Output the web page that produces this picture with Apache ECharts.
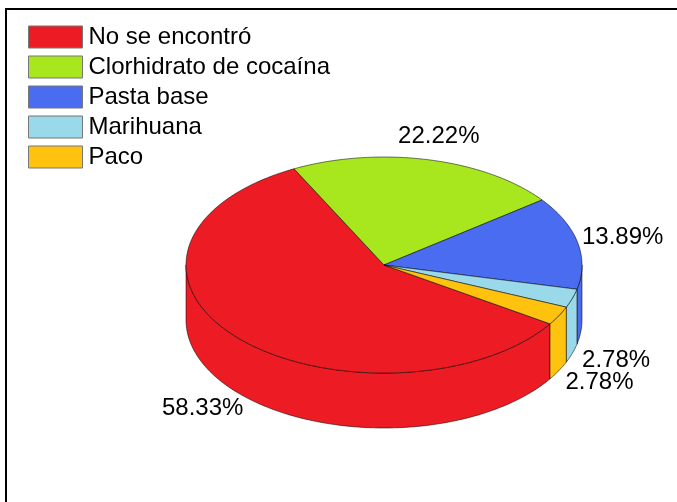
<!DOCTYPE html>
<html>
<head>
<meta charset="utf-8">
<script src="https://cdn.jsdelivr.net/npm/echarts@6/dist/echarts.min.js"></script>
<style>
html,body{margin:0;padding:0;background:#fff;}
#chart{width:677px;height:502px;}
</style>
</head>
<body>
<div id="chart"></div>
<script>
// ---- data ----
const categories = ['No se encontró', 'Clorhidrato de cocaína', 'Pasta base', 'Marihuana', 'Paco'];
const values = [58.33, 22.22, 13.89, 2.78, 2.78];
const colors = ['#ED1C24', '#A8E61D', '#4A6CF0', '#99D9EA', '#FFC20E'];

// ---- layout (pixels) ----
const CX = 384, CY = 265, RX = 198, RY = 108, DEPTH = 55;
const LRX = 244, LRY = 132;
const START = -33; // degrees, slices go clockwise
const FONT = 'Liberation Sans, Arial, sans-serif';

const total = values.reduce((a, b) => a + b, 0);
const rad = d => d * Math.PI / 180;
const pt = (a, dy) => [CX + RX * Math.cos(rad(a)), CY - RY * Math.sin(rad(a)) + (dy || 0)];

function arcPts(a0, a1, dy) {
  const pts = [];
  const n = Math.max(2, Math.ceil(Math.abs(a0 - a1) / 1.5));
  for (let k = 0; k <= n; k++) pts.push(pt(a0 + (a1 - a0) * k / n, dy));
  return pts;
}

function renderItem(params, api) {
  const a0 = api.value(0), a1 = api.value(1), v = api.value(2);
  const color = api.visual('color');
  const children = [];
  const lineStyle = { stroke: 'rgba(0,0,0,0.75)', lineWidth: 0.7 };
  // visible front side: angles where sin < 0
  [0, -360, 360].forEach(off => {
    const lo = -180 + off, hi = 0 + off;
    const s = Math.min(a0, hi), e = Math.max(a1, lo);
    if (s > e) {
      const top = arcPts(s, e, 0);
      const bot = arcPts(e, s, DEPTH);
      children.push({ type: 'polygon', shape: { points: top.concat(bot) },
        style: Object.assign({ fill: color }, lineStyle) });
    }
  });
  // top sector
  children.push({ type: 'polygon', shape: { points: [[CX, CY]].concat(arcPts(a0, a1, 0)) },
    style: Object.assign({ fill: color }, lineStyle) });
  // label
  const mid = (a0 + a1) / 2;
  const s = Math.sin(rad(mid));
  children.push({ type: 'text', style: {
    text: (v / total * 100).toFixed(2) + '%',
    x: CX + LRX * Math.cos(rad(mid)),
    y: CY - LRY * s + (s < 0 ? DEPTH : 0),
    fill: '#000', fontSize: 24, fontFamily: FONT,
    align: 'center', verticalAlign: 'middle'
  }});
  return { type: 'group', children };
}

let cum = 0;
const series = categories.map((name, i) => {
  const a0 = START - cum / total * 360;
  cum += values[i];
  const a1 = START - cum / total * 360;
  return {
    type: 'custom', name, coordinateSystem: 'none', silent: true,
    itemStyle: { color: colors[i] },
    data: [[a0, a1, values[i]]],
    renderItem
  };
});

const chart = echarts.init(document.getElementById('chart'), null, { renderer: 'canvas' });
chart.setOption({
  backgroundColor: '#fff',
  animation: false,
  color: colors,
  legend: {
    data: categories, orient: 'vertical', left: 28, top: 25, padding: 0,
    itemGap: 6, itemWidth: 54, itemHeight: 22, icon: 'rect', selectedMode: false,
    itemStyle: { borderColor: '#777', borderWidth: 1 },
    textStyle: { fontSize: 24, fontFamily: FONT, color: '#000', padding: [0, 0, 0, 1] }
  },
  graphic: [{ type: 'rect', shape: { x: 6, y: 9, width: 800, height: 800 },
    style: { fill: 'transparent', stroke: '#000', lineWidth: 2 }, silent: true }],
  series
});
</script>
</body>
</html>
